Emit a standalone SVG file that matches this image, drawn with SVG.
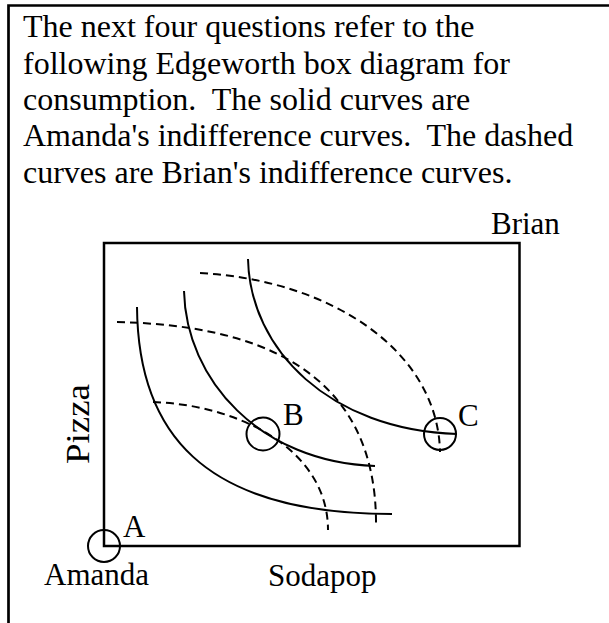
<svg xmlns="http://www.w3.org/2000/svg" width="609" height="623" viewBox="0 0 609 623">
<style>
text{font-family:"Liberation Serif","Times New Roman",serif;fill:#000;white-space:pre}
.t{font-size:32px}
.l{font-size:31px}
.solid{fill:none;stroke:#000;stroke-width:2}
.dash{fill:none;stroke:#000;stroke-width:2;stroke-dasharray:8 5}
.mark{fill:none;stroke:#000;stroke-width:2}
</style>
<rect width="609" height="623" fill="#fff"/>
<path d="M8.5,623 V5.5 H609" fill="none" stroke="#000" stroke-width="2.7"/>
<g id="title">
<text class="t" x="23" y="37.3">The next four questions refer to the</text>
<text class="t" x="23" y="73.6">following Edgeworth box diagram for</text>
<text class="t" x="23" y="109.9">consumption.  The solid curves are</text>
<text class="t" x="23" y="146.2">Amanda's indifference curves.  The dashed</text>
<text class="t" x="23" y="182.5">curves are Brian's indifference curves.</text>
</g>
<g id="box">
<rect x="104" y="243" width="415.5" height="303" fill="none" stroke="#000" stroke-width="2.5"/>
</g>
<g id="labels">
<text class="l" x="491" y="233.5">Brian</text>
<text class="l" x="44" y="585">Amanda</text>
<text class="l" x="268" y="585.5">Sodapop</text>
<text font-size="33" transform="translate(89,464) rotate(-90)" textLength="80" lengthAdjust="spacingAndGlyphs">Pizza</text>
</g>
<g id="connectors">
<path class="solid" d="M137,307 C138,430 200,514 392,514"/>
<path class="solid" d="M184,291 C186,380 260,462 375,466"/>
<path class="solid" d="M248,259 C250,350 330,430 457,434"/>
<path class="dash" d="M153,402 C240,405 328,450 328,530"/>
<path class="dash" d="M117,322 C250,325 378,365 376,527"/>
<path class="dash" d="M200,273 C330,280 438,350 440,452"/>
</g>
<g id="A">
<circle class="mark" cx="104" cy="546" r="16"/>
<text class="l" x="123" y="537.3">A</text>
</g>
<g id="B">
<circle class="mark" cx="263" cy="434" r="16.5"/>
<text class="l" x="283" y="425">B</text>
</g>
<g id="C">
<circle class="mark" cx="440" cy="434" r="16"/>
<text class="l" x="458" y="425.7">C</text>
</g>
</svg>
